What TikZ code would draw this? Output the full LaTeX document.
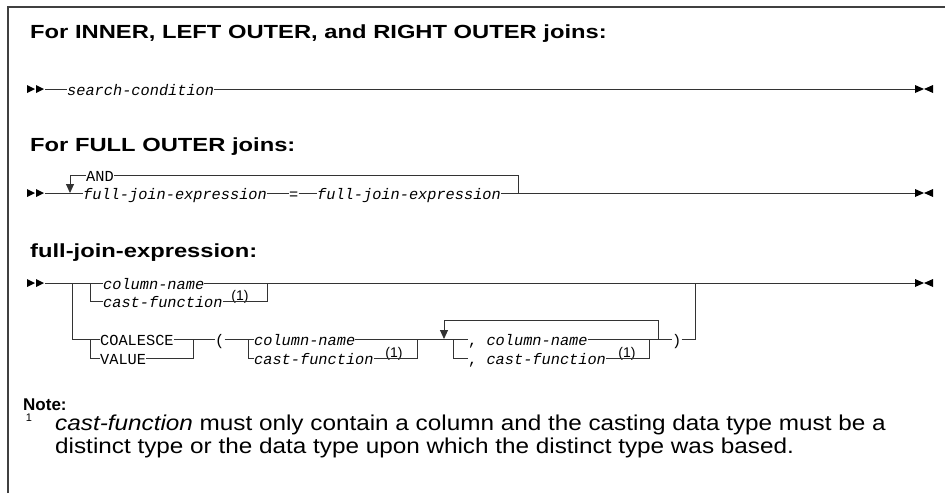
\documentclass[tikz,border=0pt]{standalone}
\usepackage{fontspec}
\setmainfont{Liberation Sans}
\newfontfamily\synfont{Liberation Mono}
\newfontfamily\headfont[FakeStretch=1.25]{Liberation Sans}
\newfontfamily\notefont[FakeStretch=1.13]{Liberation Sans}
\usetikzlibrary{arrows.meta}

\tikzset{
  rail/.style={line width=0.9pt, draw=black!80},
  syn/.style={inner sep=0pt, anchor=base west, font=\fontsize{15.3}{18}\synfont},
  var/.style={syn, font=\fontsize{15.3}{18}\synfont\itshape},
  fnref/.style={inner sep=0pt, anchor=base, font=\fontsize{14}{16}\selectfont},
  heading/.style={inner sep=0pt, anchor=base west, font=\fontsize{19}{22}\headfont\bfseries},
  notehead/.style={inner sep=0pt, anchor=base west, font=\fontsize{17}{20}\selectfont\bfseries},
  notetext/.style={inner sep=0pt, anchor=base west, font=\fontsize{21.5}{25}\notefont},
  loop/.style={rail, -{Triangle[width=8pt,length=9pt]}},
  startmark/.pic={\fill (0,-4) -- (8,0) -- (0,4) -- cycle; \fill (9,-4) -- (17,0) -- (9,4) -- cycle;},
  endmark/.pic={\fill (0,-4) -- (9,0) -- (0,4) -- cycle; \fill (18,-4) -- (9,0) -- (18,4) -- cycle;}
}

\begin{document}
\begin{tikzpicture}[x=1pt, y=-1pt]
    \useasboundingbox (0,0) rectangle (945,493);
    \draw[line width=1.6pt, draw=black!75] (8,493) -- (8,7) -- (945,7);

    % inner, left outer, right outer
    \node[heading] (h1) at (30,38) {For INNER, LEFT OUTER, and RIGHT OUTER joins:};
    \pic at (27,89) {startmark}; \coordinate (r1a) at (45,89);
    \node[var] (sc) at (67,95) {search-condition};
    \pic at (915,89) {endmark}; \coordinate (r1z) at (915,89);
    \draw[rail] (r1a) -- (sc.west |- r1a) (sc.east |- r1a) -- (r1z);

    % full outer
    \node[heading] (h2) at (30,151) {For FULL OUTER joins:};
    \pic at (27,193) {startmark}; \coordinate (r2a) at (45,193);
    \coordinate (r2lp) at (70,193); \coordinate (r2lt) at (70,175);
    \coordinate (r2j) at (518,193); \coordinate (r2jt) at (518,175);
    \node[syn] (and) at (86,181) {AND};
    \node[var] (fj1) at (83,199) {full-join-expression};
    \node[syn] (eq) at (289,199) {=};
    \node[var] (fj2) at (317,199) {full-join-expression};
    \pic at (915,193) {endmark}; \coordinate (r2z) at (915,193);
    \draw[rail] (r2a) -- (fj1.west |- r2a) (fj1.east |- r2a) -- (eq.west |- r2a)
        (eq.east |- r2a) -- (fj2.west |- r2a) (fj2.east |- r2a) -- (r2z);
    \draw[rail] (r2j) -- (r2jt) -- (and.east |- r2jt) (and.west |- r2jt) -- (r2lt);
    \draw[loop] (r2lt) -- (r2lp);

    % full-join-expression
    \node[heading] (h3) at (30,257) {full-join-expression:};
    \pic at (27,283) {startmark}; \coordinate (r3a) at (45,283);
    \pic at (915,283) {endmark}; \coordinate (r3z) at (915,283);
    \coordinate (b1) at (72,283); \coordinate (b1d) at (72,339);
    \coordinate (b2) at (90,283); \coordinate (b2d) at (90,301);
    \coordinate (b3) at (267,301); \coordinate (b3u) at (267,283);
    \node[var] (cn1) at (103,289) {column-name};
    \node[var] (cf1) at (103,307) {cast-function};
    \node[fnref] (fn1) at (240,300) {(1)};
    \draw[rail] (r3a) -- (cn1.west |- r3a) (cn1.east |- r3a) -- (r3z);
    \draw[rail] (b2) -- (b2d) -- (cf1.west |- b2d) (cf1.east |- b2d) -- (b3) -- (b3u);

    \coordinate (b1v) at (90,339); \coordinate (b1vd) at (90,358);
    \coordinate (b4) at (193,339); \coordinate (b4d) at (193,358);
    \coordinate (b5) at (248,339); \coordinate (b5d) at (248,358);
    \coordinate (b6) at (417,358); \coordinate (b6u) at (417,339);
    \coordinate (lpa) at (444,339); \coordinate (lpt) at (444,320);
    \coordinate (b7) at (453,339); \coordinate (b7d) at (453,358);
    \coordinate (b8) at (649,358); \coordinate (b8u) at (649,339);
    \coordinate (b9) at (658,339); \coordinate (b9t) at (658,320);
    \coordinate (b10) at (695,339); \coordinate (b10u) at (695,283);
    \node[syn] (co) at (100,345) {COALESCE};
    \node[syn] (va) at (100,364) {VALUE};
    \node[syn] (lp) at (215,345) {(};
    \node[var] (cn2) at (254,345) {column-name};
    \node[var] (cf2) at (254,364) {cast-function};
    \node[fnref] (fn2) at (394,357) {(1)};
    \node[var] (cn3) at (468,345) {\upshape,\ \itshape column-name};
    \node[var] (cf3) at (468,364) {\upshape,\ \itshape cast-function};
    \node[fnref] (fn3) at (627,357) {(1)};
    \node[syn] (rp) at (672,345) {)};
    \draw[rail] (b1) -- (b1d) -- (co.west |- b1d) (co.east |- b1d) -- (lp.west |- b1d)
        (lp.east |- b1d) -- (cn2.west |- b1d) (cn2.east |- b1d) -- (cn3.west |- b1d)
        (cn3.east |- b1d) -- (rp.west |- b1d) (rp.east |- b1d) -- (b10) -- (b10u);
    \draw[rail] (b1v) -- (b1vd) -- (va.west |- b1vd) (va.east |- b1vd) -- (b4d) -- (b4);
    \draw[rail] (b5) -- (b5d) -- (cf2.west |- b5d) (cf2.east |- b5d) -- (b6) -- (b6u);
    \draw[rail] (b7) -- (b7d) -- (cf3.west |- b7d) (cf3.east |- b7d) -- (b8) -- (b8u);
    \draw[rail] (b9) -- (b9t) -- (lpt);
    \draw[loop] (lpt) -- (lpa);

    % note
    \node[notehead] (note) at (23,410) {Note:};
    \node[fnref, font=\fontsize{11}{13}\selectfont] (fnm) at (29,421) {1};
    \node[notetext] (n1) at (55,430) {\textit{cast-function} must only contain a column and the casting data type must be a};
    \node[notetext] (n2) at (55,453) {distinct type or the data type upon which the distinct type was based.};
\end{tikzpicture}
\end{document}
